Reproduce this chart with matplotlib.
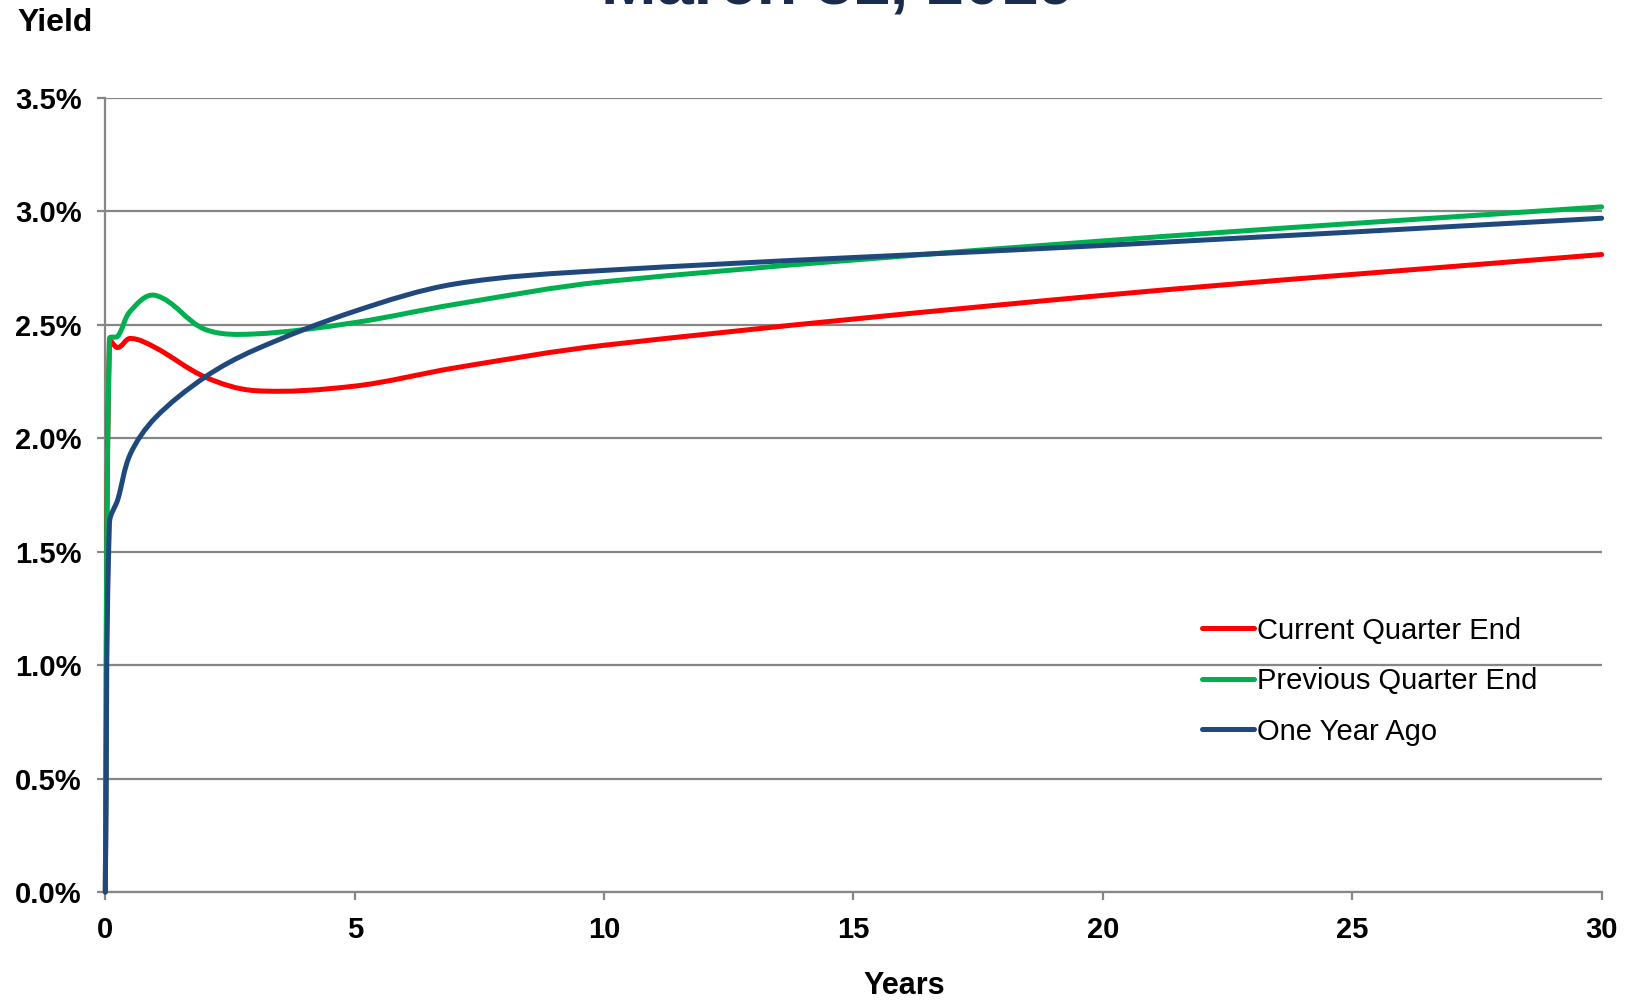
# Treasury yield curves, quarter end vs previous quarter vs one year ago
import numpy as np
import matplotlib.pyplot as plt
from matplotlib.path import Path
from matplotlib.patches import PathPatch
from matplotlib.lines import Line2D

# maturities in years and yields in percent
maturities = [0, 1/12, 0.25, 0.5, 1, 2, 3, 5, 7, 10, 20, 30]
current_qtr = [0, 2.43, 2.40, 2.44, 2.40, 2.27, 2.21, 2.23, 2.31, 2.41, 2.63, 2.81]
previous_qtr = [0, 2.44, 2.45, 2.56, 2.63, 2.48, 2.46, 2.51, 2.59, 2.69, 2.87, 3.02]
year_ago = [0, 1.63, 1.73, 1.93, 2.09, 2.27, 2.39, 2.56, 2.68, 2.74, 2.85, 2.97]

labels = ["Current Quarter End", "Previous Quarter End", "One Year Ago"]
colors = ["#FF0000", "#00B050", "#1F497D"]
x_ticks = [0, 5, 10, 15, 20, 25, 30]
y_ticks = [0, 0.5, 1.0, 1.5, 2.0, 2.5, 3.0, 3.5]

plt.rcParams['font.family'] = ['Liberation Sans', 'DejaVu Sans']

fig = plt.figure(figsize=(16.33, 10), dpi=100)
ax = fig.add_axes([0.0645, 0.108, 0.9163, 0.794])
ax.set_xlim(0, 30)
ax.set_ylim(0, 3.5)


def smooth_path(xs, ys, ax):
    # Excel style smoothed line: bezier segments, tangents worked out in pixel space
    pts = ax.transData.transform(np.column_stack((xs, ys)))
    n = len(pts)
    verts = [pts[0]]
    codes = [Path.MOVETO]
    tang = []
    for i in range(n):
        a = pts[max(i - 1, 0)]
        b = pts[min(i + 1, n - 1)]
        t = b - a
        tang.append(t / np.hypot(*t))
    for i in range(n - 1):
        d = np.hypot(*(pts[i + 1] - pts[i]))
        c1 = pts[i] + tang[i] * d / 3
        c2 = pts[i + 1] - tang[i + 1] * d / 3
        verts += [c1, c2, pts[i + 1]]
        codes += [Path.CURVE4] * 3
    verts = ax.transData.inverted().transform(np.array(verts))
    return Path(verts, codes)


for ys, c in zip([current_qtr, previous_qtr, year_ago], colors):
    p = PathPatch(smooth_path(maturities, ys, ax), facecolor='none', edgecolor=c,
                  lw=3.6, capstyle='round', joinstyle='round', clip_on=False, zorder=3)
    ax.add_patch(p)

ax.set_xticks(x_ticks)
ax.set_yticks(y_ticks)
ax.set_yticklabels([f"{v:.1f}%" for v in y_ticks])
ax.tick_params(axis='both', labelsize=21, length=6, width=1.6, color='#868686', pad=11)
for lab in ax.get_xticklabels() + ax.get_yticklabels():
    lab.set_fontweight('bold')

ax.grid(axis='y', color='#868686', lw=1.6)
ax.set_axisbelow(True)
for s in ['top', 'right']:
    ax.spines[s].set_visible(False)
for s in ['left', 'bottom']:
    ax.spines[s].set_color('#868686')
    ax.spines[s].set_linewidth(1.6)

handles = [Line2D([], [], color=c, lw=3.6, solid_capstyle='round') for c in colors]
ax.legend(handles, labels, loc='upper left', bbox_to_anchor=(0.727, 0.398),
          bbox_transform=fig.transFigure, frameon=False, fontsize=21,
          handlelength=1.8, handletextpad=0.1, labelspacing=0.77, borderpad=0)

fig.text(0.011, 0.969, "Yield", fontsize=23, fontweight='bold', va='baseline')
fig.text(0.554, 0.006, "Years", fontsize=22, fontweight='bold', ha='center', va='baseline')
fig.text(0.513, 0.997, "March 31, 2019", fontsize=48, fontweight='bold', color='#1B2B4B',
         ha='center', va='baseline', family=['Liberation Sans Narrow', 'Liberation Sans'])

fig.savefig("out.png", dpi=100)
